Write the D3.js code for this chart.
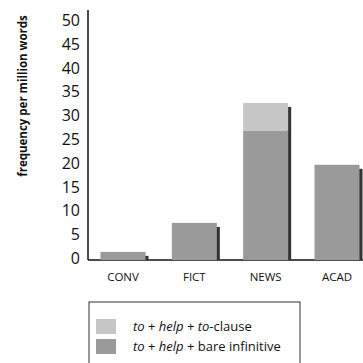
<!DOCTYPE html>
<html>
<head>
<meta charset="utf-8">
<script src="https://cdn.jsdelivr.net/npm/d3@7"></script>
<style>
body{margin:0;background:#fff;}
text{font-family:"Open Sans","Noto Sans",sans-serif;fill:#111;}
</style>
</head>
<body>
<svg id="chart" width="363" height="363"></svg>
<script>
var registers = ["CONV","FICT","NEWS","ACAD"];
var bareInf = [1.7, 7.8, 27.2, 20];
var toClause = [0, 0, 5.8, 0];
var yTicks = [0,5,10,15,20,25,30,35,40,45,50];

var svg = d3.select("#chart");

var y = d3.scaleLinear().domain([0,50]).range([260,22]);
var x = d3.scalePoint().domain(registers).range([123,337]);
var bw = 45;

// y axis
svg.append("line")
	.attr("x1",88).attr("x2",88)
	.attr("y1",10).attr("y2",y(0))
	.attr("stroke","#111").attr("stroke-width",1.5);
svg.append("line")
	.attr("x1",88).attr("x2",363)
	.attr("y1",y(0)).attr("y2",y(0))
	.attr("stroke","#111").attr("stroke-width",1.5);

svg.selectAll(".ytick")
	.data(yTicks)
	.enter().append("text")
	.attr("x",80)
	.attr("y",function(d){ return y(d)-2; })
	.attr("text-anchor","end")
	.attr("dominant-baseline","central")
	.style("font-size","16px")
	.text(function(d){ return d; });

svg.append("text")
	.attr("transform","translate(22,96) rotate(-90)")
	.attr("text-anchor","middle")
	.attr("dominant-baseline","central")
	.style("font-size","11.5px")
	.style("font-weight","bold")
	.text("frequency per million words");

// bars
var g = svg.selectAll(".bar")
	.data(registers)
	.enter().append("g");

// shadow
g.append("rect")
	.attr("x",function(d){ return x(d)+bw/2-1; })
	.attr("y",function(d,i){ return y(bareInf[i]+toClause[i])+4; })
	.attr("width",4)
	.attr("height",function(d,i){ return y(0)-y(bareInf[i]+toClause[i])-4; })
	.attr("fill","#333");

g.append("rect")
	.attr("x",function(d){ return x(d)-bw/2; })
	.attr("y",function(d,i){ return y(bareInf[i]); })
	.attr("width",bw)
	.attr("height",function(d,i){ return y(0)-y(bareInf[i]); })
	.attr("fill","#9a9a9a");

g.append("rect")
	.attr("x",function(d){ return x(d)-bw/2; })
	.attr("y",function(d,i){ return y(bareInf[i]+toClause[i]); })
	.attr("width",bw)
	.attr("height",function(d,i){ return y(bareInf[i])-y(bareInf[i]+toClause[i]); })
	.attr("fill","#c6c6c6");

g.append("text")
	.attr("x",function(d){ return x(d); })
	.attr("y",276)
	.attr("text-anchor","middle")
	.attr("dominant-baseline","central")
	.style("font-size","11.5px")
	.text(function(d){ return d; });

// legend
svg.append("rect")
	.attr("x",89).attr("y",302)
	.attr("width",211).attr("height",70)
	.attr("fill","none").attr("stroke","#333").attr("stroke-width",1);

var legendItems = [
	{fill:"#c6c6c6", parts:[["to",1],[" + ",0],["help",1],[" + ",0],["to",1],["-clause",0]]},
	{fill:"#9a9a9a", parts:[["to",1],[" + ",0],["help",1],[" + bare infinitive",0]]}
];

legendItems.forEach(function(it,i){
	var cy = 326+i*20;
	svg.append("rect")
		.attr("x",96).attr("y",cy-7)
		.attr("width",20).attr("height",15)
		.attr("fill",it.fill);
	var t = svg.append("text")
		.attr("x",133).attr("y",cy)
		.attr("dominant-baseline","central")
		.style("font-size","13px");
	it.parts.forEach(function(p){
		t.append("tspan")
			.style("font-style",p[1]?"italic":"normal")
			.text(p[0]);
	});
});
</script>
</body>
</html>
